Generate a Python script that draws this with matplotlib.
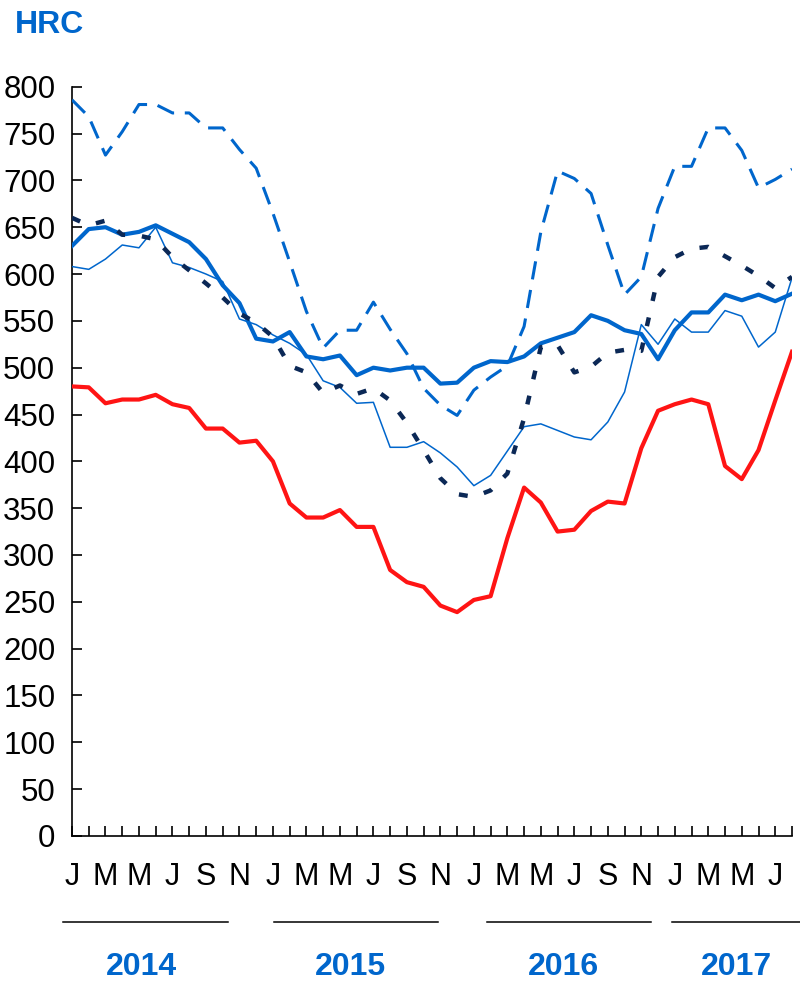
#!/usr/bin/env python3

# HRC price lines, monthly Jan 2014 - Aug 2017

import numpy as np
import matplotlib
matplotlib.use("Agg")
from matplotlib import pyplot as plt
from matplotlib.lines import Line2D

params = {
    'font.family': ['Liberation Sans', 'DejaVu Sans'],
    'font.size': 22,
    'xtick.labelsize': 22,
    'ytick.labelsize': 22.5,
    'axes.linewidth': 1.2,
}
matplotlib.rcParams.update(params)

BLUE = "#0066cc"
NAVY = "#0b2856"
RED = "#ff1414"

months = ["J", "F", "M", "A", "M", "J", "J", "A", "S", "O", "N", "D"]
n_months = 44
month_labels = [months[i % 12] if i % 2 == 0 else "" for i in range(n_months)]
years = ["2014", "2015", "2016", "2017"]

red = [480, 479, 462, 466, 466, 471, 461, 457, 435, 435, 420, 422,
       400, 355, 340, 340, 348, 330, 330, 284, 271, 266, 246, 239,
       252, 256, 318, 372, 356, 325, 327, 347, 357, 355, 414, 454,
       461, 466, 461, 395, 381, 412, 465, 517]
thick_blue = [630, 648, 650, 642, 645, 652, 643, 634, 616, 588, 569, 531,
              528, 538, 512, 509, 513, 492, 500, 497, 500, 500, 483, 484,
              500, 507, 506, 512, 526, 532, 538, 556, 550, 540, 536, 509,
              540, 559, 559, 578, 572, 578, 571, 579]
thin_blue = [608, 605, 616, 631, 628, 650, 612, 607, 600, 592, 552, 546,
             535, 526, 514, 486, 479, 462, 463, 415, 415, 421, 409, 394,
             374, 385, 411, 437, 440, 433, 426, 423, 442, 474, 546, 525,
             552, 538, 538, 561, 555, 522, 538, 596]
dashed_blue = [786, 768, 727, 752, 781, 781, 772, 772, 756, 756, 733, 713,
               665, 613, 560, 521, 540, 540, 570, 541, 515, 478, 460, 449,
               476, 490, 502, 544, 645, 710, 702, 686, 631, 578, 597, 670,
               715, 715, 756, 756, 732, 692, 701, 712]
navy = [660, 652, 657, 642, 641, 637, 618, 604, 590, 575, 558, 548,
        533, 502, 495, 473, 481, 472, 478, 465, 441, 412, 382, 365,
        362, 369, 387, 446, 522, 524, 495, 501, 516, 519, 518, 597,
        618, 627, 629, 619, 609, 598, 585, 597]

x = np.arange(n_months)

fig = plt.figure(figsize=(8, 9.9), dpi=100)
ax = fig.add_axes([0.09, 0.1556, 0.90, 0.7568])

ax.plot(x, red, color=RED, lw=3.0, zorder=3)
ax.plot(x, thin_blue, color=BLUE, lw=1.1, zorder=3)
ax.plot(x, thick_blue, color=BLUE, lw=3.0, zorder=4)
ax.plot(x, dashed_blue, color=BLUE, lw=2.2, dashes=(6, 3.5), zorder=4)
ax.plot(x, navy, color=NAVY, lw=3.2, dashes=(2.0, 3.8), zorder=5)

ax.set_xlim(0, n_months - 1)
ax.set_ylim(0, 800)
ax.set_yticks(np.arange(0, 801, 50))
ax.set_xticks(x)
ax.set_xticklabels(month_labels)

for side in ("top", "right"):
    ax.spines[side].set_visible(False)
ax.tick_params(axis="y", direction="in", length=7, width=1.2, pad=12)
ax.tick_params(axis="x", direction="in", length=7, width=1.2, pad=19)

# title
fig.text(15 / 800, 1 - 25 / 990, "HRC", color=BLUE, fontsize=23,
         fontweight="bold", ha="left", va="center")

# year underlines and labels
year_spans = [(63, 228), (274, 438), (487, 651), (672, 800)]
year_centres = [141, 350, 563, 736]
line_y = 1 - 922 / 990
for (x0, x1), xc, yr in zip(year_spans, year_centres, years):
    fig.add_artist(Line2D([x0 / 800, x1 / 800], [line_y, line_y],
                          transform=fig.transFigure, color="black", lw=1.1))
    fig.text(xc / 800, 1 - 967 / 990, yr, color=BLUE, fontsize=23,
             fontweight="bold", ha="center", va="center")

plt.savefig("out.png", dpi=100)
